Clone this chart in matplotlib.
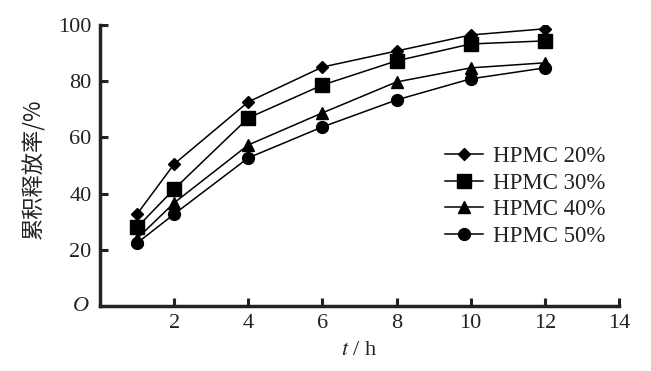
import matplotlib
matplotlib.use("Agg")
import matplotlib.pyplot as plt

# release time (h)
t_hours = [1, 2, 4, 6, 8, 10, 12]

# cumulative release (%) per HPMC content
hpmc_20 = [32.7, 50.5, 72.6, 85.0, 90.7, 96.4, 98.6]
hpmc_30 = [28.0, 41.6, 66.9, 78.6, 87.2, 93.2, 94.3]
hpmc_40 = [24.0, 36.7, 57.3, 68.7, 79.7, 84.7, 86.5]
hpmc_50 = [22.4, 32.7, 52.7, 63.7, 73.3, 80.8, 84.7]

series_labels = ["HPMC 20%", "HPMC 30%", "HPMC 40%", "HPMC 50%"]
x_ticks = [2, 4, 6, 8, 10, 12, 14]
y_ticks = [20, 40, 60, 80, 100]

plt.rcParams['font.family'] = ['Liberation Serif', 'Noto Sans CJK SC']
plt.rcParams['mathtext.fontset'] = 'stix'

fig = plt.figure(figsize=(6.51, 3.71), dpi=100)
ax = fig.add_axes([0.1536, 0.175, 0.7972, 0.758])

styles = [('D', 6), ('s', 10), ('^', 8), ('o', 8.5)]
for vals, label, (mk, ms) in zip([hpmc_20, hpmc_30, hpmc_40, hpmc_50], series_labels, styles):
    ax.plot(t_hours, vals, color='black', lw=1.1, marker=mk, markersize=ms,
            markerfacecolor='black', markeredgecolor='black', label=label)

ax.set_xlim(0, 14)
ax.set_ylim(0, 100)
ax.set_xticks(x_ticks)
ax.set_yticks(y_ticks)
ax.tick_params(direction='in', length=6, width=2.2, labelsize=16, pad=6, colors='#222222')
for side in ('top', 'right'):
    ax.spines[side].set_visible(False)
for side in ('left', 'bottom'):
    ax.spines[side].set_linewidth(2.5)
    ax.spines[side].set_color('#222222')

# origin label
ax.text(-0.3, 0, 'O', ha='right', va='center', fontsize=16, style='italic',
        transform=ax.transData, clip_on=False, color='#222222')

ax.set_xlabel(r'$t$ / h', fontsize=16, color='#222222')
ax.xaxis.set_label_coords(0.5, -0.125)
ax.set_ylabel('累积释放率/%', fontsize=16, family=['Noto Sans CJK SC', 'Liberation Serif'],
              color='#222222')
ax.yaxis.set_label_coords(-0.105, 0.49)

ax.legend(loc='center left', bbox_to_anchor=(0.665, 0.39), frameon=False, fontsize=16.5,
          handlelength=1.66, handletextpad=0.44, labelspacing=0.24, borderpad=0,
          borderaxespad=0, labelcolor='#222222')

fig.savefig('out.png', dpi=100)
